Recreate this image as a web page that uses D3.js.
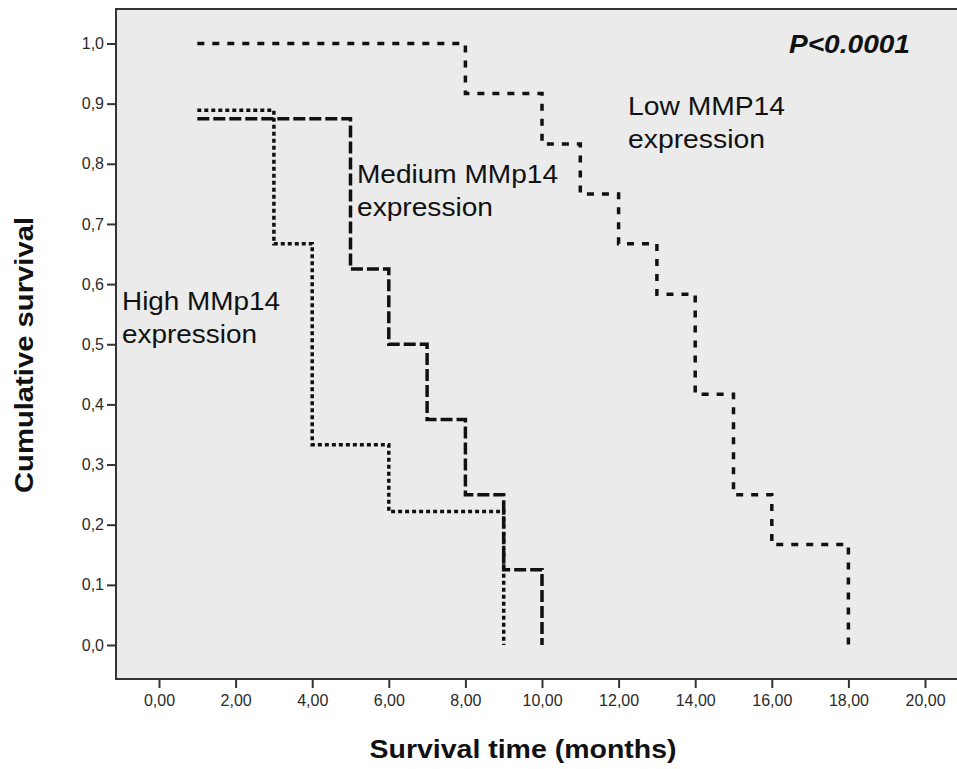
<!DOCTYPE html>
<html lang="en">
<head>
<meta charset="UTF-8">
<title>Survival by MMP14 expression</title>
<script src="https://d3js.org/d3.v7.min.js"></script>
<style>
    body { margin: 0; background: #fff; }
    svg { display: block; font-family: "Liberation Sans", Arial, sans-serif; }
    .tick-label { font-size: 16px; fill: #2a2a2a; }
    .note { font-size: 25px; fill: #111; }
    .title { font-size: 26px; font-weight: bold; fill: #111; }
    .curve { fill: none; stroke: #111; stroke-width: 3.5; }
</style>
</head>
<body>
<div id="chart"></div>
<script>
// Kaplan-Meier steps: event times and survival after each
const lowTimes = [1, 8, 10, 11, 12, 13, 14, 15, 16, 18];
const lowSurv  = [1.0, 0.917, 0.833, 0.75, 0.667, 0.583, 0.417, 0.25, 0.167, 0.0];

const mediumTimes = [1, 5, 6, 7, 8, 9, 10];
const mediumSurv  = [0.875, 0.625, 0.5, 0.375, 0.25, 0.125, 0.0];

const highTimes = [1, 3, 4, 6, 9];
const highSurv  = [0.889, 0.667, 0.333, 0.222, 0.0];

const xTicks = [0, 2, 4, 6, 8, 10, 12, 14, 16, 18, 20];
const yTicks = [0, 0.1, 0.2, 0.3, 0.4, 0.5, 0.6, 0.7, 0.8, 0.9, 1.0];

const width = 957, height = 769;
const frame = { left: 116, top: 9, right: 960, bottom: 679 };

const svg = d3.select("#chart").append("svg")
    .attr("width", width)
    .attr("height", height);

const x = d3.scaleLinear().domain([0, 20]).range([159, 925]);
const y = d3.scaleLinear().domain([0, 1]).range([645, 43.5]);

// plot area
svg.append("rect")
    .attr("x", frame.left).attr("y", frame.top)
    .attr("width", frame.right - frame.left)
    .attr("height", frame.bottom - frame.top)
    .attr("fill", "#ebebeb")
    .attr("stroke", "#333")
    .attr("stroke-width", 2);

// axes
const yAxis = svg.append("g")
    .attr("transform", `translate(${frame.left},0)`)
    .call(d3.axisLeft(y).tickValues(yTicks).tickSize(9).tickFormat(d3.format(".1f")));
yAxis.select(".domain").remove();
yAxis.selectAll("line").attr("stroke", "#333").attr("stroke-width", 2);
yAxis.selectAll("text")
    .attr("class", "tick-label")
    .attr("font-size", null).attr("font-family", null)
    .attr("x", -12)
    .text(d => d3.format(".1f")(d).replace(".", ","));

const xAxis = svg.append("g")
    .attr("transform", `translate(0,${frame.bottom})`)
    .call(d3.axisBottom(x).tickValues(xTicks).tickSize(9));
xAxis.select(".domain").remove();
xAxis.selectAll("line").attr("stroke", "#333").attr("stroke-width", 2);
xAxis.selectAll("text")
    .attr("class", "tick-label")
    .attr("font-size", null).attr("font-family", null)
    .attr("y", 16)
    .text(d => d3.format(".2f")(d).replace(".", ","));

// curves
const line = d3.line()
    .x(d => x(d[0]))
    .y(d => y(d[1]))
    .curve(d3.curveStepAfter);

const curves = [
    { times: lowTimes, surv: lowSurv, dash: "7,8" },
    { times: mediumTimes, surv: mediumSurv, dash: "12,4" },
    { times: highTimes, surv: highSurv, dash: "4,3" }
];

svg.selectAll(".curve")
    .data(curves)
    .enter().append("path")
    .attr("class", "curve")
    .attr("stroke-dasharray", d => d.dash)
    .attr("d", d => line(d3.zip(d.times, d.surv)));

// annotations
const notes = [
    { text: "Low MMP14", x: 628, y: 115, len: 157 },
    { text: "expression", x: 628, y: 148, len: 137 },
    { text: "Medium MMp14", x: 357, y: 183, len: 201 },
    { text: "expression", x: 357, y: 216, len: 136 },
    { text: "High MMp14", x: 122, y: 310, len: 158 },
    { text: "expression", x: 122, y: 343, len: 135 }
];

svg.selectAll(".note")
    .data(notes)
    .enter().append("text")
    .attr("class", "note")
    .attr("x", d => d.x)
    .attr("y", d => d.y)
    .attr("textLength", d => d.len)
    .attr("lengthAdjust", "spacingAndGlyphs")
    .text(d => d.text);

svg.append("text")
    .attr("x", 789).attr("y", 53)
    .attr("font-size", 25)
    .attr("font-weight", "bold")
    .attr("font-style", "italic")
    .attr("fill", "#111")
    .attr("textLength", 121)
    .attr("lengthAdjust", "spacingAndGlyphs")
    .text("P<0.0001");

// axis titles
svg.append("text")
    .attr("class", "title")
    .attr("text-anchor", "middle")
    .attr("transform", "translate(33,355) rotate(-90)")
    .attr("textLength", 276)
    .attr("lengthAdjust", "spacingAndGlyphs")
    .text("Cumulative survival");

svg.append("text")
    .attr("class", "title")
    .attr("text-anchor", "middle")
    .attr("x", 523).attr("y", 758)
    .attr("textLength", 307)
    .attr("lengthAdjust", "spacingAndGlyphs")
    .text("Survival time (months)");
</script>
</body>
</html>
